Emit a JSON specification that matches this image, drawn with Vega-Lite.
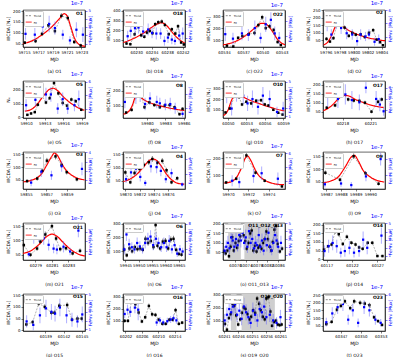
{
"$schema":"https://vega.github.io/schema/vega-lite/v6.json",
"background":"white",
"padding":{"left":5,"top":0,"right":0,"bottom":0},
"columns":4,
"spacing":{"row":34,"column":38},
"bounds":"flush",
"resolve":{"scale":{"color":"independent","strokeDash":"independent","x":"independent","y":"independent"}},
"config":{
 "font":"DejaVu Sans",
 "view":{"stroke":"#000000","strokeWidth":0.6,"continuousWidth":62,"continuousHeight":37},
 "axis":{"labelFontSize":3.9,"titleFontSize":4.5,"titleFontWeight":"normal","tickSize":2,"tickWidth":0.5,"tickColor":"#000000","domainColor":"#000000","domainWidth":0.6,"labelPadding":1,"titlePadding":2,"grid":false,"labelColor":"#000000","titleColor":"#000000","labelOverlap":false,"labelFlush":false},
 "axisX":{"titleLineHeight":12,"titlePadding":2.2},
 "legend":{"orient":"top-left","offset":1.2,"padding":1.2,"labelFontSize":2.7,"symbolType":"stroke","symbolSize":35,"symbolStrokeWidth":0.9,"rowPadding":0.4,"labelOffset":1.5,"strokeColor":"#cccccc","fillColor":"#ffffff","cornerRadius":1},
 "title":{"fontSize":5.5,"fontWeight":"normal","color":"#0000ff","anchor":"end","frame":"group","offset":-6.5,"dx":-2,"subtitleFontSize":4.5,"subtitleFontWeight":"bold","subtitleColor":"#000000","subtitlePadding":4}
},
"concat":[
{"title":{"text":"1e-7","subtitle":"O1"},
 "data":{"values":[
  {"k":"Trend","x":59715.1,"y":55,"e":8},{"k":"Trend","x":59716.6,"y":62,"e":9},{"k":"Trend","x":59717.5,"y":95,"e":10},{"k":"Trend","x":59718.4,"y":135,"e":12},{"k":"Trend","x":59719.3,"y":108,"e":11},{"k":"Trend","x":59720.2,"y":178,"e":12},{"k":"Trend","x":59721.1,"y":168,"e":12},{"k":"Trend","x":59722.0,"y":58,"e":9},{"k":"Trend","x":59722.9,"y":42,"e":8},
  {"k":"Fit","x":59714.85,"y":50},{"k":"Fit","x":59716,"y":62},{"k":"Fit","x":59717,"y":80},{"k":"Fit","x":59718,"y":103},{"k":"Fit","x":59719,"y":132},{"k":"Fit","x":59720,"y":168},{"k":"Fit","x":59720.6,"y":188},{"k":"Fit","x":59721,"y":178},{"k":"Fit","x":59721.5,"y":130},{"k":"Fit","x":59722,"y":78},{"k":"Fit","x":59722.5,"y":52},{"k":"Fit","x":59723,"y":42},{"k":"Fit","x":59723.5,"y":38},
  {"k":"F","x":59715.2,"y":2.2,"e":0.7},{"k":"F","x":59716.5,"y":2.1,"e":0.8},{"k":"F","x":59717.6,"y":3.1,"e":0.9},{"k":"F","x":59718.5,"y":3.4,"e":1.0},{"k":"F","x":59719.3,"y":2.9,"e":0.8},{"k":"F","x":59720.4,"y":2.1,"e":0.6},{"k":"F","x":59721.4,"y":1.4,"e":0.5},{"k":"F","x":59722.3,"y":2.7,"e":0.9},{"k":"F","x":59723.2,"y":2.1,"e":0.9}]},
 "encoding":{"x":{"field":"x","type":"quantitative","scale":{"domain":[59714.85,59723.5],"nice":false,"zero":false},"axis":{"values":[59715,59717,59719,59721,59723],"format":"d","title":["MJD","(a) O1"]}}},
 "layer":[
  {"encoding":{"y":{"field":"y","type":"quantitative","scale":{"domain":[35,205],"nice":false,"zero":false},"axis":{"orient":"left","values":[50,100,150,200],"title":"WCDA [Nₓ]"}}},
   "layer":[
    {"transform":[{"filter":"datum.k=='Trend'"}],"mark":{"type":"errorbar","color":"#000000","thickness":0.5},"encoding":{"yError":{"field":"e"}}},
    {"transform":[{"filter":"datum.k=='Trend'"}],"mark":{"type":"line","strokeWidth":0.6},"encoding":{"color":{"field":"k","type":"nominal","scale":{"domain":["Trend","Fit"],"range":["#7f7f7f","#ff0000"]},"legend":{"title":null}},"strokeDash":{"field":"k","type":"nominal","scale":{"domain":["Trend","Fit"],"range":[[2,1.2],[1,0]]},"legend":{"title":null}}}},
    {"transform":[{"filter":"datum.k=='Fit'"}],"mark":{"type":"line","strokeWidth":1.2,"interpolate":"monotone"},"encoding":{"color":{"field":"k","type":"nominal"},"strokeDash":{"field":"k","type":"nominal"}}},
    {"transform":[{"filter":"datum.k=='Trend'"}],"mark":{"type":"square","color":"#000000","size":6,"opacity":1}}]},
  {"encoding":{"y":{"field":"y","type":"quantitative","scale":{"domain":[0.6,5.1],"nice":false,"zero":false},"axis":{"orient":"right","values":[1,2,3,4,5],"title":"Fermi [Flux]","labelColor":"#0000ff","titleColor":"#0000ff","tickColor":"#0000ff","titleAngle":270}}},
   "layer":[
    {"transform":[{"filter":"datum.k=='F'"}],"mark":{"type":"errorbar","color":"#5a5aff","opacity":0.45,"thickness":1.1},"encoding":{"yError":{"field":"e"}}},
    {"transform":[{"filter":"datum.k=='F'"}],"mark":{"type":"square","color":"#0000ff","size":5,"opacity":1}}]}],
 "resolve":{"scale":{"y":"independent"}}},

{"title":{"text":"1e-7","subtitle":"O18"},
 "data":{"values":[
  {"k":"Trend","x":60227.5,"y":66,"e":15},{"k":"Trend","x":60228.5,"y":59,"e":15},{"k":"Trend","x":60229.6,"y":161,"e":20},{"k":"Trend","x":60230.4,"y":253,"e":22},{"k":"Trend","x":60231.3,"y":150,"e":20},{"k":"Trend","x":60232.1,"y":135,"e":18},{"k":"Trend","x":60232.8,"y":178,"e":20},{"k":"Trend","x":60233.5,"y":195,"e":20},{"k":"Trend","x":60234.2,"y":171,"e":20},{"k":"Trend","x":60234.9,"y":264,"e":22},{"k":"Trend","x":60235.7,"y":284,"e":22},{"k":"Trend","x":60236.6,"y":291,"e":22},{"k":"Trend","x":60237.4,"y":257,"e":22},{"k":"Trend","x":60238.4,"y":161,"e":20},{"k":"Trend","x":60239.2,"y":212,"e":20},{"k":"Trend","x":60240.1,"y":168,"e":20},{"k":"Trend","x":60240.8,"y":243,"e":22},{"k":"Trend","x":60241.6,"y":76,"e":15},{"k":"Trend","x":60242.3,"y":56,"e":15},
  {"k":"Fit","x":60226.7,"y":75},{"k":"Fit","x":60228,"y":95},{"k":"Fit","x":60230,"y":130},{"k":"Fit","x":60232,"y":175},{"k":"Fit","x":60234,"y":232},{"k":"Fit","x":60235.5,"y":268},{"k":"Fit","x":60236.5,"y":280},{"k":"Fit","x":60237.5,"y":262},{"k":"Fit","x":60238.5,"y":222},{"k":"Fit","x":60239.5,"y":172},{"k":"Fit","x":60240.5,"y":128},{"k":"Fit","x":60241.5,"y":95},{"k":"Fit","x":60242.5,"y":72},
  {"k":"F","x":60227.8,"y":2.2,"e":0.8},{"k":"F","x":60228.6,"y":3.0,"e":1.0},{"k":"F","x":60229.7,"y":3.4,"e":1.0},{"k":"F","x":60230.6,"y":3.5,"e":0.9},{"k":"F","x":60231.8,"y":2.9,"e":0.8},{"k":"F","x":60233.1,"y":3.2,"e":0.9},{"k":"F","x":60234.1,"y":2.7,"e":0.8},{"k":"F","x":60235.2,"y":2.6,"e":0.9},{"k":"F","x":60236.3,"y":2.6,"e":0.8},{"k":"F","x":60237.3,"y":1.5,"e":0.7},{"k":"F","x":60238.2,"y":2.0,"e":0.8},{"k":"F","x":60239.2,"y":1.7,"e":0.7},{"k":"F","x":60240.0,"y":1.5,"e":0.6},{"k":"F","x":60241.1,"y":2.3,"e":0.9},{"k":"F","x":60242.0,"y":2.6,"e":0.9}]},
 "encoding":{"x":{"field":"x","type":"quantitative","scale":{"domain":[60226.6,60242.6],"nice":false,"zero":false},"axis":{"values":[60230,60234,60238,60242],"format":"d","title":["MJD","(b) O18"]}}},
 "layer":[
  {"encoding":{"y":{"field":"y","type":"quantitative","scale":{"domain":[30,410],"nice":false,"zero":false},"axis":{"orient":"left","values":[100,200,300,400],"title":"WCDA [Nₓ]"}}},
   "layer":[
    {"transform":[{"filter":"datum.k=='Trend'"}],"mark":{"type":"errorbar","color":"#000000","thickness":0.5},"encoding":{"yError":{"field":"e"}}},
    {"transform":[{"filter":"datum.k=='Trend'"}],"mark":{"type":"line","strokeWidth":0.6},"encoding":{"color":{"field":"k","type":"nominal","scale":{"domain":["Trend","Fit"],"range":["#7f7f7f","#ff0000"]},"legend":{"title":null}},"strokeDash":{"field":"k","type":"nominal","scale":{"domain":["Trend","Fit"],"range":[[2,1.2],[1,0]]},"legend":{"title":null}}}},
    {"transform":[{"filter":"datum.k=='Fit'"}],"mark":{"type":"line","strokeWidth":1.2,"interpolate":"monotone"},"encoding":{"color":{"field":"k","type":"nominal"},"strokeDash":{"field":"k","type":"nominal"}}},
    {"transform":[{"filter":"datum.k=='Trend'"}],"mark":{"type":"square","color":"#000000","size":6,"opacity":1}}]},
  {"encoding":{"y":{"field":"y","type":"quantitative","scale":{"domain":[0.6,6.1],"nice":false,"zero":false},"axis":{"orient":"right","values":[2,4,6],"title":"Fermi [Flux]","labelColor":"#0000ff","titleColor":"#0000ff","tickColor":"#0000ff","titleAngle":270}}},
   "layer":[
    {"transform":[{"filter":"datum.k=='F'"}],"mark":{"type":"errorbar","color":"#5a5aff","opacity":0.45,"thickness":1.1},"encoding":{"yError":{"field":"e"}}},
    {"transform":[{"filter":"datum.k=='F'"}],"mark":{"type":"square","color":"#0000ff","size":5,"opacity":1}}]}],
 "resolve":{"scale":{"y":"independent"}}},

{"title":{"text":"1e-7","subtitle":"O22"},
 "data":{"values":[
  {"k":"Trend","x":60534.45,"y":55,"e":10},{"k":"Trend","x":60535.45,"y":48,"e":10},{"k":"Trend","x":60536.2,"y":120,"e":14},{"k":"Trend","x":60536.85,"y":135,"e":15},{"k":"Trend","x":60537.85,"y":150,"e":15},{"k":"Trend","x":60538.75,"y":160,"e":16},{"k":"Trend","x":60539.35,"y":225,"e":18},{"k":"Trend","x":60539.95,"y":290,"e":20},{"k":"Trend","x":60540.5,"y":200,"e":17},{"k":"Trend","x":60541.1,"y":215,"e":18},{"k":"Trend","x":60541.75,"y":185,"e":17},{"k":"Trend","x":60542.35,"y":85,"e":12},{"k":"Trend","x":60542.85,"y":60,"e":10},
  {"k":"Fit","x":60533.85,"y":62},{"k":"Fit","x":60535,"y":75},{"k":"Fit","x":60536,"y":95},{"k":"Fit","x":60537,"y":125},{"k":"Fit","x":60538,"y":165},{"k":"Fit","x":60539,"y":210},{"k":"Fit","x":60539.8,"y":240},{"k":"Fit","x":60540.3,"y":240},{"k":"Fit","x":60541,"y":212},{"k":"Fit","x":60541.7,"y":160},{"k":"Fit","x":60542.3,"y":110},{"k":"Fit","x":60543,"y":75},{"k":"Fit","x":60543.5,"y":64},
  {"k":"F","x":60534.2,"y":2.3,"e":0.9},{"k":"F","x":60535.4,"y":1.7,"e":0.8},{"k":"F","x":60536.8,"y":2.4,"e":0.9},{"k":"F","x":60537.8,"y":2.2,"e":0.8},{"k":"F","x":60538.8,"y":3.1,"e":1.0},{"k":"F","x":60539.7,"y":1.8,"e":0.7},{"k":"F","x":60540.5,"y":3.6,"e":1.0},{"k":"F","x":60541.3,"y":4.2,"e":1.0},{"k":"F","x":60541.9,"y":2.4,"e":0.9},{"k":"F","x":60542.6,"y":1.8,"e":0.8}]},
 "encoding":{"x":{"field":"x","type":"quantitative","scale":{"domain":[60533.85,60543.5],"nice":false,"zero":false},"axis":{"values":[60534,60537,60540,60543],"format":"d","title":["MJD","(c) O22"]}}},
 "layer":[
  {"encoding":{"y":{"field":"y","type":"quantitative","scale":{"domain":[44,350],"nice":false,"zero":false},"axis":{"orient":"left","values":[100,200,300],"title":"WCDA [Nₓ]"}}},
   "layer":[
    {"transform":[{"filter":"datum.k=='Trend'"}],"mark":{"type":"errorbar","color":"#000000","thickness":0.5},"encoding":{"yError":{"field":"e"}}},
    {"transform":[{"filter":"datum.k=='Trend'"}],"mark":{"type":"line","strokeWidth":0.6},"encoding":{"color":{"field":"k","type":"nominal","scale":{"domain":["Trend","Fit"],"range":["#7f7f7f","#ff0000"]},"legend":{"title":null}},"strokeDash":{"field":"k","type":"nominal","scale":{"domain":["Trend","Fit"],"range":[[2,1.2],[1,0]]},"legend":{"title":null}}}},
    {"transform":[{"filter":"datum.k=='Fit'"}],"mark":{"type":"line","strokeWidth":1.2,"interpolate":"monotone"},"encoding":{"color":{"field":"k","type":"nominal"},"strokeDash":{"field":"k","type":"nominal"}}},
    {"transform":[{"filter":"datum.k=='Trend'"}],"mark":{"type":"square","color":"#000000","size":6,"opacity":1}}]},
  {"encoding":{"y":{"field":"y","type":"quantitative","scale":{"domain":[0.6,5.5],"nice":false,"zero":false},"axis":{"orient":"right","values":[2,4],"title":"Fermi [Flux]","labelColor":"#0000ff","titleColor":"#0000ff","tickColor":"#0000ff","titleAngle":270}}},
   "layer":[
    {"transform":[{"filter":"datum.k=='F'"}],"mark":{"type":"errorbar","color":"#5a5aff","opacity":0.45,"thickness":1.1},"encoding":{"yError":{"field":"e"}}},
    {"transform":[{"filter":"datum.k=='F'"}],"mark":{"type":"square","color":"#0000ff","size":5,"opacity":1}}]}],
 "resolve":{"scale":{"y":"independent"}}},

{"title":{"text":"1e-7","subtitle":"O2"},
 "data":{"values":[
  {"k":"Trend","x":59796.1,"y":60,"e":12},{"k":"Trend","x":59796.6,"y":42,"e":10},{"k":"Trend","x":59797.1,"y":65,"e":12},{"k":"Trend","x":59797.6,"y":160,"e":15},{"k":"Trend","x":59798.1,"y":148,"e":14},{"k":"Trend","x":59798.7,"y":135,"e":14},{"k":"Trend","x":59799.3,"y":80,"e":12},{"k":"Trend","x":59799.8,"y":100,"e":13},{"k":"Trend","x":59800.3,"y":88,"e":12},{"k":"Trend","x":59801,"y":90,"e":12},{"k":"Trend","x":59801.6,"y":72,"e":11},{"k":"Trend","x":59802.2,"y":100,"e":12},{"k":"Trend","x":59802.8,"y":118,"e":13},{"k":"Trend","x":59803.3,"y":55,"e":10},{"k":"Trend","x":59803.8,"y":38,"e":9},{"k":"Trend","x":59804.2,"y":18,"e":8},
  {"k":"Fit","x":59795.7,"y":20},{"k":"Fit","x":59796.3,"y":40},{"k":"Fit","x":59796.9,"y":90},{"k":"Fit","x":59797.4,"y":145},{"k":"Fit","x":59797.7,"y":160},{"k":"Fit","x":59798.2,"y":150},{"k":"Fit","x":59799,"y":125},{"k":"Fit","x":59800,"y":100},{"k":"Fit","x":59801,"y":82},{"k":"Fit","x":59802,"y":68},{"k":"Fit","x":59803,"y":58},{"k":"Fit","x":59804,"y":50},{"k":"Fit","x":59804.5,"y":48},
  {"k":"F","x":59796.2,"y":3.8,"e":1.0},{"k":"F","x":59796.8,"y":2.3,"e":0.8},{"k":"F","x":59797.5,"y":4.1,"e":1.0},{"k":"F","x":59798.2,"y":3.3,"e":0.9},{"k":"F","x":59799,"y":2.5,"e":0.9},{"k":"F","x":59799.8,"y":2.3,"e":0.8},{"k":"F","x":59800.5,"y":1.3,"e":0.7},{"k":"F","x":59801,"y":2.3,"e":0.8},{"k":"F","x":59801.7,"y":2.0,"e":0.7},{"k":"F","x":59802.2,"y":2.3,"e":0.8},{"k":"F","x":59803,"y":1.2,"e":0.6},{"k":"F","x":59803.6,"y":1.6,"e":0.7}]},
 "encoding":{"x":{"field":"x","type":"quantitative","scale":{"domain":[59795.6,59804.5],"nice":false,"zero":false},"axis":{"values":[59796,59798,59800,59802,59804],"format":"d","title":["MJD","(d) O2"]}}},
 "layer":[
  {"encoding":{"y":{"field":"y","type":"quantitative","scale":{"domain":[6,252],"nice":false,"zero":false},"axis":{"orient":"left","values":[50,100,150,200,250],"title":"WCDA [Nₓ]"}}},
   "layer":[
    {"transform":[{"filter":"datum.k=='Trend'"}],"mark":{"type":"errorbar","color":"#000000","thickness":0.5},"encoding":{"yError":{"field":"e"}}},
    {"transform":[{"filter":"datum.k=='Trend'"}],"mark":{"type":"line","strokeWidth":0.6},"encoding":{"color":{"field":"k","type":"nominal","scale":{"domain":["Trend","Fit"],"range":["#7f7f7f","#ff0000"]},"legend":{"title":null}},"strokeDash":{"field":"k","type":"nominal","scale":{"domain":["Trend","Fit"],"range":[[2,1.2],[1,0]]},"legend":{"title":null}}}},
    {"transform":[{"filter":"datum.k=='Fit'"}],"mark":{"type":"line","strokeWidth":1.2,"interpolate":"monotone"},"encoding":{"color":{"field":"k","type":"nominal"},"strokeDash":{"field":"k","type":"nominal"}}},
    {"transform":[{"filter":"datum.k=='Trend'"}],"mark":{"type":"square","color":"#000000","size":6,"opacity":1}}]},
  {"encoding":{"y":{"field":"y","type":"quantitative","scale":{"domain":[0.4,6.05],"nice":false,"zero":false},"axis":{"orient":"right","values":[2,4,6],"title":"Fermi [Flux]","labelColor":"#0000ff","titleColor":"#0000ff","tickColor":"#0000ff","titleAngle":270}}},
   "layer":[
    {"transform":[{"filter":"datum.k=='F'"}],"mark":{"type":"errorbar","color":"#5a5aff","opacity":0.45,"thickness":1.1},"encoding":{"yError":{"field":"e"}}},
    {"transform":[{"filter":"datum.k=='F'"}],"mark":{"type":"square","color":"#0000ff","size":5,"opacity":1}}]}],
 "resolve":{"scale":{"y":"independent"}}},

{"title":{"text":"1e-7","subtitle":"O5"},
 "data":{"values":[
  {"k":"Trend","x":59910.2,"y":18,"e":8},{"k":"Trend","x":59910.8,"y":28,"e":9},{"k":"Trend","x":59911.4,"y":38,"e":10},{"k":"Trend","x":59911.9,"y":92,"e":12},{"k":"Trend","x":59912.5,"y":162,"e":15},{"k":"Trend","x":59913.2,"y":108,"e":13},{"k":"Trend","x":59913.8,"y":140,"e":14},{"k":"Trend","x":59914.5,"y":250,"e":12},{"k":"Trend","x":59915.2,"y":175,"e":15},{"k":"Trend","x":59915.9,"y":105,"e":13},{"k":"Trend","x":59916.6,"y":85,"e":12},{"k":"Trend","x":59917.3,"y":130,"e":14},{"k":"Trend","x":59918,"y":118,"e":13},{"k":"Trend","x":59918.9,"y":55,"e":10},
  {"k":"Fit","x":59909.8,"y":45},{"k":"Fit","x":59911,"y":62},{"k":"Fit","x":59912,"y":108},{"k":"Fit","x":59913,"y":168},{"k":"Fit","x":59913.8,"y":205},{"k":"Fit","x":59914.4,"y":212},{"k":"Fit","x":59915,"y":198},{"k":"Fit","x":59916,"y":150},{"k":"Fit","x":59917,"y":110},{"k":"Fit","x":59918,"y":80},{"k":"Fit","x":59919,"y":57},{"k":"Fit","x":59919.4,"y":52},
  {"k":"F","x":59910,"y":2.5,"e":0.9},{"k":"F","x":59911.5,"y":3.3,"e":1.0},{"k":"F","x":59912.2,"y":4.8,"e":1.1},{"k":"F","x":59913.2,"y":4.1,"e":1.0},{"k":"F","x":59914,"y":4.1,"e":1.1},{"k":"F","x":59915.1,"y":2.0,"e":0.8},{"k":"F","x":59915.9,"y":3.4,"e":1.0},{"k":"F","x":59916.7,"y":2.0,"e":0.8},{"k":"F","x":59917.8,"y":2.5,"e":0.9},{"k":"F","x":59918.5,"y":3.4,"e":1.3}]},
 "encoding":{"x":{"field":"x","type":"quantitative","scale":{"domain":[59909.5,59919.5],"nice":false,"zero":false},"axis":{"values":[59910,59913,59916,59919],"format":"d","title":["MJD","(e) O5"]}}},
 "layer":[
  {"encoding":{"y":{"field":"y","type":"quantitative","scale":{"domain":[-5,265],"nice":false,"zero":false},"axis":{"orient":"left","values":[0,100,200],"title":"Nₓ"}}},
   "layer":[
    {"transform":[{"filter":"datum.k=='Trend'"}],"mark":{"type":"errorbar","color":"#000000","thickness":0.5},"encoding":{"yError":{"field":"e"}}},
    {"transform":[{"filter":"datum.k=='Trend'"}],"mark":{"type":"line","strokeWidth":0.6},"encoding":{"color":{"field":"k","type":"nominal","scale":{"domain":["Trend","Fit"],"range":["#7f7f7f","#ff0000"]},"legend":{"title":null}},"strokeDash":{"field":"k","type":"nominal","scale":{"domain":["Trend","Fit"],"range":[[2,1.2],[1,0]]},"legend":{"title":null}}}},
    {"transform":[{"filter":"datum.k=='Fit'"}],"mark":{"type":"line","strokeWidth":1.2,"interpolate":"monotone"},"encoding":{"color":{"field":"k","type":"nominal"},"strokeDash":{"field":"k","type":"nominal"}}},
    {"transform":[{"filter":"datum.k=='Trend'"}],"mark":{"type":"square","color":"#000000","size":6,"opacity":1}}]},
  {"encoding":{"y":{"field":"y","type":"quantitative","scale":{"domain":[0.6,6.1],"nice":false,"zero":false},"axis":{"orient":"right","values":[2,4,6],"title":"Fermi [Flux]","labelColor":"#0000ff","titleColor":"#0000ff","tickColor":"#0000ff","titleAngle":270}}},
   "layer":[
    {"transform":[{"filter":"datum.k=='F'"}],"mark":{"type":"errorbar","color":"#5a5aff","opacity":0.45,"thickness":1.1},"encoding":{"yError":{"field":"e"}}},
    {"transform":[{"filter":"datum.k=='F'"}],"mark":{"type":"square","color":"#0000ff","size":5,"opacity":1}}]}],
 "resolve":{"scale":{"y":"independent"}}},

{"title":{"text":"1e-7","subtitle":"O8"},
 "data":{"values":[
  {"k":"Trend","x":59976.6,"y":53,"e":10},{"k":"Trend","x":59977.5,"y":71,"e":11},{"k":"Trend","x":59978.3,"y":171,"e":15},{"k":"Trend","x":59979.1,"y":160,"e":15},{"k":"Trend","x":59979.6,"y":89,"e":12},{"k":"Trend","x":59980.4,"y":122,"e":13},{"k":"Trend","x":59981.2,"y":104,"e":12},{"k":"Trend","x":59982.1,"y":89,"e":12},{"k":"Trend","x":59982.9,"y":100,"e":12},{"k":"Trend","x":59983.7,"y":104,"e":12},{"k":"Trend","x":59984.5,"y":89,"e":12},{"k":"Trend","x":59985.3,"y":42,"e":10},{"k":"Trend","x":59985.8,"y":78,"e":11},
  {"k":"Fit","x":59976.2,"y":42},{"k":"Fit","x":59977,"y":60},{"k":"Fit","x":59977.6,"y":100},{"k":"Fit","x":59978.1,"y":160},{"k":"Fit","x":59978.4,"y":180},{"k":"Fit","x":59978.8,"y":165},{"k":"Fit","x":59979.5,"y":140},{"k":"Fit","x":59980.5,"y":120},{"k":"Fit","x":59981.5,"y":105},{"k":"Fit","x":59982.5,"y":95},{"k":"Fit","x":59983.5,"y":85},{"k":"Fit","x":59984.5,"y":77},{"k":"Fit","x":59985.5,"y":70},{"k":"Fit","x":59986.1,"y":67},
  {"k":"F","x":59976.4,"y":2.8,"e":0.9},{"k":"F","x":59977.4,"y":4.7,"e":1.0},{"k":"F","x":59978.2,"y":3.5,"e":1.0},{"k":"F","x":59978.9,"y":3.8,"e":1.0},{"k":"F","x":59979.7,"y":2.5,"e":0.9},{"k":"F","x":59980.5,"y":3.3,"e":0.9},{"k":"F","x":59981.6,"y":2.8,"e":0.9},{"k":"F","x":59982.1,"y":2.6,"e":0.8},{"k":"F","x":59983,"y":2.4,"e":0.8},{"k":"F","x":59983.8,"y":2.5,"e":0.9},{"k":"F","x":59984.6,"y":1.9,"e":0.8},{"k":"F","x":59985.8,"y":1.1,"e":0.5}]},
 "encoding":{"x":{"field":"x","type":"quantitative","scale":{"domain":[59976.1,59986.2],"nice":false,"zero":false},"axis":{"values":[59980,59983,59986],"format":"d","title":["MJD","(f) O8"]}}},
 "layer":[
  {"encoding":{"y":{"field":"y","type":"quantitative","scale":{"domain":[16,267],"nice":false,"zero":false},"axis":{"orient":"left","values":[100,200],"title":"WCDA [Nₓ]"}}},
   "layer":[
    {"transform":[{"filter":"datum.k=='Trend'"}],"mark":{"type":"errorbar","color":"#000000","thickness":0.5},"encoding":{"yError":{"field":"e"}}},
    {"transform":[{"filter":"datum.k=='Trend'"}],"mark":{"type":"line","strokeWidth":0.6},"encoding":{"color":{"field":"k","type":"nominal","scale":{"domain":["Trend","Fit"],"range":["#7f7f7f","#ff0000"]},"legend":{"title":null}},"strokeDash":{"field":"k","type":"nominal","scale":{"domain":["Trend","Fit"],"range":[[2,1.2],[1,0]]},"legend":{"title":null}}}},
    {"transform":[{"filter":"datum.k=='Fit'"}],"mark":{"type":"line","strokeWidth":1.2,"interpolate":"monotone"},"encoding":{"color":{"field":"k","type":"nominal"},"strokeDash":{"field":"k","type":"nominal"}}},
    {"transform":[{"filter":"datum.k=='Trend'"}],"mark":{"type":"square","color":"#000000","size":6,"opacity":1}}]},
  {"encoding":{"y":{"field":"y","type":"quantitative","scale":{"domain":[0.5,5.8],"nice":false,"zero":false},"axis":{"orient":"right","values":[2,4],"title":"Fermi [Flux]","labelColor":"#0000ff","titleColor":"#0000ff","tickColor":"#0000ff","titleAngle":270}}},
   "layer":[
    {"transform":[{"filter":"datum.k=='F'"}],"mark":{"type":"errorbar","color":"#5a5aff","opacity":0.45,"thickness":1.1},"encoding":{"yError":{"field":"e"}}},
    {"transform":[{"filter":"datum.k=='F'"}],"mark":{"type":"square","color":"#0000ff","size":5,"opacity":1}}]}],
 "resolve":{"scale":{"y":"independent"}}},

{"title":{"text":"1e-7","subtitle":"O10"},
 "data":{"values":[
  {"k":"Trend","x":60049.6,"y":75,"e":12},{"k":"Trend","x":60050.3,"y":112,"e":14},{"k":"Trend","x":60051.2,"y":245,"e":20},{"k":"Trend","x":60051.8,"y":220,"e":18},{"k":"Trend","x":60052.3,"y":150,"e":16},{"k":"Trend","x":60053,"y":175,"e":16},{"k":"Trend","x":60053.8,"y":160,"e":16},{"k":"Trend","x":60054.6,"y":185,"e":17},{"k":"Trend","x":60055.4,"y":190,"e":17},{"k":"Trend","x":60056,"y":150,"e":16},{"k":"Trend","x":60056.6,"y":140,"e":15},{"k":"Trend","x":60057.4,"y":100,"e":13},{"k":"Trend","x":60058.2,"y":72,"e":12},{"k":"Trend","x":60058.9,"y":55,"e":11},
  {"k":"Fit","x":60049.3,"y":45},{"k":"Fit","x":60050,"y":95},{"k":"Fit","x":60050.6,"y":190},{"k":"Fit","x":60051,"y":232},{"k":"Fit","x":60051.5,"y":245},{"k":"Fit","x":60052,"y":235},{"k":"Fit","x":60053,"y":205},{"k":"Fit","x":60054,"y":180},{"k":"Fit","x":60055,"y":160},{"k":"Fit","x":60056,"y":140},{"k":"Fit","x":60057,"y":122},{"k":"Fit","x":60058,"y":105},{"k":"Fit","x":60059.2,"y":90},
  {"k":"F","x":60049.8,"y":3.5,"e":1.0},{"k":"F","x":60050.6,"y":1.9,"e":0.8},{"k":"F","x":60051.4,"y":3.7,"e":1.0},{"k":"F","x":60052.5,"y":3.4,"e":1.0},{"k":"F","x":60053.2,"y":2.5,"e":0.9},{"k":"F","x":60054,"y":3.0,"e":1.0},{"k":"F","x":60054.9,"y":2.1,"e":0.9},{"k":"F","x":60055.7,"y":3.4,"e":1.0},{"k":"F","x":60056.8,"y":3.0,"e":1.0},{"k":"F","x":60058,"y":1.5,"e":0.6},{"k":"F","x":60059,"y":1.9,"e":0.8}]},
 "encoding":{"x":{"field":"x","type":"quantitative","scale":{"domain":[60049.2,60059.3],"nice":false,"zero":false},"axis":{"values":[60050,60053,60056,60059],"format":"d","title":["MJD","(g) O10"]}}},
 "layer":[
  {"encoding":{"y":{"field":"y","type":"quantitative","scale":{"domain":[23,370],"nice":false,"zero":false},"axis":{"orient":"left","values":[100,200,300],"title":"WCDA [Nₓ]"}}},
   "layer":[
    {"transform":[{"filter":"datum.k=='Trend'"}],"mark":{"type":"errorbar","color":"#000000","thickness":0.5},"encoding":{"yError":{"field":"e"}}},
    {"transform":[{"filter":"datum.k=='Trend'"}],"mark":{"type":"line","strokeWidth":0.6},"encoding":{"color":{"field":"k","type":"nominal","scale":{"domain":["Trend","Fit"],"range":["#7f7f7f","#ff0000"]},"legend":{"title":null}},"strokeDash":{"field":"k","type":"nominal","scale":{"domain":["Trend","Fit"],"range":[[2,1.2],[1,0]]},"legend":{"title":null}}}},
    {"transform":[{"filter":"datum.k=='Fit'"}],"mark":{"type":"line","strokeWidth":1.2,"interpolate":"monotone"},"encoding":{"color":{"field":"k","type":"nominal"},"strokeDash":{"field":"k","type":"nominal"}}},
    {"transform":[{"filter":"datum.k=='Trend'"}],"mark":{"type":"square","color":"#000000","size":6,"opacity":1}}]},
  {"encoding":{"y":{"field":"y","type":"quantitative","scale":{"domain":[0.8,5.1],"nice":false,"zero":false},"axis":{"orient":"right","values":[1,2,3,4,5],"title":"Fermi [Flux]","labelColor":"#0000ff","titleColor":"#0000ff","tickColor":"#0000ff","titleAngle":270}}},
   "layer":[
    {"transform":[{"filter":"datum.k=='F'"}],"mark":{"type":"errorbar","color":"#5a5aff","opacity":0.45,"thickness":1.1},"encoding":{"yError":{"field":"e"}}},
    {"transform":[{"filter":"datum.k=='F'"}],"mark":{"type":"square","color":"#0000ff","size":5,"opacity":1}}]}],
 "resolve":{"scale":{"y":"independent"}}},

{"title":{"text":"1e-7","subtitle":"O17"},
 "data":{"values":[
  {"k":"Trend","x":60216.3,"y":72,"e":10},{"k":"Trend","x":60217.2,"y":85,"e":10},{"k":"Trend","x":60218,"y":150,"e":12},{"k":"Trend","x":60218.6,"y":118,"e":11},{"k":"Trend","x":60219.2,"y":112,"e":11},{"k":"Trend","x":60219.8,"y":110,"e":11},{"k":"Trend","x":60220.4,"y":100,"e":11},{"k":"Trend","x":60221.1,"y":50,"e":9},{"k":"Trend","x":60221.8,"y":105,"e":11},{"k":"Trend","x":60222.2,"y":118,"e":11},
  {"k":"Fit","x":60215.95,"y":55},{"k":"Fit","x":60216.8,"y":82},{"k":"Fit","x":60217.5,"y":118},{"k":"Fit","x":60218.1,"y":140},{"k":"Fit","x":60218.6,"y":138},{"k":"Fit","x":60219.3,"y":120},{"k":"Fit","x":60220,"y":105},{"k":"Fit","x":60220.7,"y":92},{"k":"Fit","x":60221.4,"y":82},{"k":"Fit","x":60222,"y":76},{"k":"Fit","x":60222.4,"y":73},
  {"k":"F","x":60216.4,"y":2.2,"e":0.9},{"k":"F","x":60217.5,"y":2.0,"e":0.8},{"k":"F","x":60218.3,"y":2.4,"e":0.9},{"k":"F","x":60219,"y":1.9,"e":0.8},{"k":"F","x":60219.8,"y":1.7,"e":0.7},{"k":"F","x":60220.5,"y":3.0,"e":0.5},{"k":"F","x":60221.6,"y":2.0,"e":0.7},{"k":"F","x":60222,"y":1.5,"e":0.6},{"k":"F","x":60222.4,"y":0.9,"e":0.4}]},
 "encoding":{"x":{"field":"x","type":"quantitative","scale":{"domain":[60215.9,60222.55],"nice":false,"zero":false},"axis":{"values":[60218,60221],"format":"d","title":["MJD","(h) O17"]}}},
 "layer":[
  {"encoding":{"y":{"field":"y","type":"quantitative","scale":{"domain":[15,220],"nice":false,"zero":false},"axis":{"orient":"left","values":[50,100,150,200],"title":"WCDA [Nₓ]"}}},
   "layer":[
    {"transform":[{"filter":"datum.k=='Trend'"}],"mark":{"type":"errorbar","color":"#000000","thickness":0.5},"encoding":{"yError":{"field":"e"}}},
    {"transform":[{"filter":"datum.k=='Trend'"}],"mark":{"type":"line","strokeWidth":0.6},"encoding":{"color":{"field":"k","type":"nominal","scale":{"domain":["Trend","Fit"],"range":["#7f7f7f","#ff0000"]},"legend":{"title":null}},"strokeDash":{"field":"k","type":"nominal","scale":{"domain":["Trend","Fit"],"range":[[2,1.2],[1,0]]},"legend":{"title":null}}}},
    {"transform":[{"filter":"datum.k=='Fit'"}],"mark":{"type":"line","strokeWidth":1.2,"interpolate":"monotone"},"encoding":{"color":{"field":"k","type":"nominal"},"strokeDash":{"field":"k","type":"nominal"}}},
    {"transform":[{"filter":"datum.k=='Trend'"}],"mark":{"type":"square","color":"#000000","size":6,"opacity":1}}]},
  {"encoding":{"y":{"field":"y","type":"quantitative","scale":{"domain":[0.3,3.6],"nice":false,"zero":false},"axis":{"orient":"right","values":[1,2,3],"title":"Fermi [Flux]","labelColor":"#0000ff","titleColor":"#0000ff","tickColor":"#0000ff","titleAngle":270}}},
   "layer":[
    {"transform":[{"filter":"datum.k=='F'"}],"mark":{"type":"errorbar","color":"#5a5aff","opacity":0.45,"thickness":1.1},"encoding":{"yError":{"field":"e"}}},
    {"transform":[{"filter":"datum.k=='F'"}],"mark":{"type":"square","color":"#0000ff","size":5,"opacity":1}}]}],
 "resolve":{"scale":{"y":"independent"}}},

{"title":{"text":"1e-7","subtitle":"O3"},
 "data":{"values":[
  {"k":"Trend","x":59855.1,"y":45,"e":7},{"k":"Trend","x":59856.1,"y":55,"e":8},{"k":"Trend","x":59856.6,"y":85,"e":9},{"k":"Trend","x":59857.05,"y":125,"e":11},{"k":"Trend","x":59857.9,"y":142,"e":12},{"k":"Trend","x":59858.5,"y":108,"e":10},{"k":"Trend","x":59859,"y":80,"e":9},{"k":"Trend","x":59860,"y":52,"e":8},
  {"k":"Fit","x":59854.75,"y":42},{"k":"Fit","x":59855.5,"y":48},{"k":"Fit","x":59856,"y":56},{"k":"Fit","x":59856.5,"y":72},{"k":"Fit","x":59857,"y":105},{"k":"Fit","x":59857.5,"y":140},{"k":"Fit","x":59857.8,"y":155},{"k":"Fit","x":59858.1,"y":145},{"k":"Fit","x":59858.5,"y":115},{"k":"Fit","x":59859,"y":85},{"k":"Fit","x":59859.5,"y":68},{"k":"Fit","x":59860,"y":57},{"k":"Fit","x":59860.75,"y":50},
  {"k":"F","x":59855.5,"y":0.7,"e":0.4},{"k":"F","x":59856.5,"y":1.9,"e":0.6},{"k":"F","x":59857.5,"y":1.5,"e":0.5},{"k":"F","x":59858.5,"y":2.5,"e":0.6},{"k":"F","x":59860.5,"y":2.2,"e":0.7}]},
 "encoding":{"x":{"field":"x","type":"quantitative","scale":{"domain":[59854.7,59860.8],"nice":false,"zero":false},"axis":{"values":[59855,59857,59859],"format":"d","title":["MJD","(i) O3"]}}},
 "layer":[
  {"encoding":{"y":{"field":"y","type":"quantitative","scale":{"domain":[14,159],"nice":false,"zero":false},"axis":{"orient":"left","values":[50,100,150],"title":"WCDA [Nₓ]"}}},
   "layer":[
    {"transform":[{"filter":"datum.k=='Trend'"}],"mark":{"type":"errorbar","color":"#000000","thickness":0.5},"encoding":{"yError":{"field":"e"}}},
    {"transform":[{"filter":"datum.k=='Trend'"}],"mark":{"type":"line","strokeWidth":0.6},"encoding":{"color":{"field":"k","type":"nominal","scale":{"domain":["Trend","Fit"],"range":["#7f7f7f","#ff0000"]},"legend":{"title":null}},"strokeDash":{"field":"k","type":"nominal","scale":{"domain":["Trend","Fit"],"range":[[2,1.2],[1,0]]},"legend":{"title":null}}}},
    {"transform":[{"filter":"datum.k=='Fit'"}],"mark":{"type":"line","strokeWidth":1.2,"interpolate":"monotone"},"encoding":{"color":{"field":"k","type":"nominal"},"strokeDash":{"field":"k","type":"nominal"}}},
    {"transform":[{"filter":"datum.k=='Trend'"}],"mark":{"type":"square","color":"#000000","size":6,"opacity":1}}]},
  {"encoding":{"y":{"field":"y","type":"quantitative","scale":{"domain":[0,4.05],"nice":false,"zero":false},"axis":{"orient":"right","values":[1,2,3,4],"title":"Fermi [Flux]","labelColor":"#0000ff","titleColor":"#0000ff","tickColor":"#0000ff","titleAngle":270}}},
   "layer":[
    {"transform":[{"filter":"datum.k=='F'"}],"mark":{"type":"errorbar","color":"#5a5aff","opacity":0.45,"thickness":1.1},"encoding":{"yError":{"field":"e"}}},
    {"transform":[{"filter":"datum.k=='F'"}],"mark":{"type":"square","color":"#0000ff","size":5,"opacity":1}}]}],
 "resolve":{"scale":{"y":"independent"}}},

{"title":{"text":"1e-7","subtitle":"O4"},
 "data":{"values":[
  {"k":"Trend","x":59870,"y":82,"e":9},{"k":"Trend","x":59870.7,"y":45,"e":7},{"k":"Trend","x":59871.3,"y":80,"e":9},{"k":"Trend","x":59872,"y":95,"e":9},{"k":"Trend","x":59872.6,"y":110,"e":10},{"k":"Trend","x":59873.3,"y":120,"e":10},{"k":"Trend","x":59873.8,"y":132,"e":11},{"k":"Trend","x":59874.5,"y":118,"e":10},{"k":"Trend","x":59875.2,"y":125,"e":10},{"k":"Trend","x":59875.8,"y":90,"e":9},{"k":"Trend","x":59876.5,"y":45,"e":7},{"k":"Trend","x":59877.3,"y":60,"e":8},
  {"k":"Fit","x":59869.7,"y":48},{"k":"Fit","x":59870.5,"y":55},{"k":"Fit","x":59871.5,"y":72},{"k":"Fit","x":59872.5,"y":100},{"k":"Fit","x":59873.3,"y":125},{"k":"Fit","x":59873.9,"y":132},{"k":"Fit","x":59874.5,"y":124},{"k":"Fit","x":59875.2,"y":100},{"k":"Fit","x":59875.8,"y":75},{"k":"Fit","x":59876.5,"y":55},{"k":"Fit","x":59877.3,"y":42},{"k":"Fit","x":59878.3,"y":38},
  {"k":"F","x":59870.1,"y":1.3,"e":0.5},{"k":"F","x":59870.8,"y":2.2,"e":0.7},{"k":"F","x":59871.5,"y":2.7,"e":0.8},{"k":"F","x":59872.1,"y":1.6,"e":0.6},{"k":"F","x":59872.8,"y":0.8,"e":0.4},{"k":"F","x":59873.6,"y":3.0,"e":0.8},{"k":"F","x":59874.4,"y":2.9,"e":0.8},{"k":"F","x":59875,"y":2.4,"e":0.7},{"k":"F","x":59875.7,"y":1.3,"e":0.5},{"k":"F","x":59876.5,"y":2.1,"e":0.6},{"k":"F","x":59878,"y":0.6,"e":0.3}]},
 "encoding":{"x":{"field":"x","type":"quantitative","scale":{"domain":[59869.67,59878.4],"nice":false,"zero":false},"axis":{"values":[59870,59872,59874,59876],"format":"d","title":["MJD","(j) O4"]}}},
 "layer":[
  {"encoding":{"y":{"field":"y","type":"quantitative","scale":{"domain":[20,158],"nice":false,"zero":false},"axis":{"orient":"left","values":[50,100,150],"title":"WCDA [Nₓ]"}}},
   "layer":[
    {"transform":[{"filter":"datum.k=='Trend'"}],"mark":{"type":"errorbar","color":"#000000","thickness":0.5},"encoding":{"yError":{"field":"e"}}},
    {"transform":[{"filter":"datum.k=='Trend'"}],"mark":{"type":"line","strokeWidth":0.6},"encoding":{"color":{"field":"k","type":"nominal","scale":{"domain":["Trend","Fit"],"range":["#7f7f7f","#ff0000"]},"legend":{"title":null}},"strokeDash":{"field":"k","type":"nominal","scale":{"domain":["Trend","Fit"],"range":[[2,1.2],[1,0]]},"legend":{"title":null}}}},
    {"transform":[{"filter":"datum.k=='Fit'"}],"mark":{"type":"line","strokeWidth":1.2,"interpolate":"monotone"},"encoding":{"color":{"field":"k","type":"nominal"},"strokeDash":{"field":"k","type":"nominal"}}},
    {"transform":[{"filter":"datum.k=='Trend'"}],"mark":{"type":"square","color":"#000000","size":6,"opacity":1}}]},
  {"encoding":{"y":{"field":"y","type":"quantitative","scale":{"domain":[0,4.9],"nice":false,"zero":false},"axis":{"orient":"right","values":[2,4],"title":"Fermi [Flux]","labelColor":"#0000ff","titleColor":"#0000ff","tickColor":"#0000ff","titleAngle":270}}},
   "layer":[
    {"transform":[{"filter":"datum.k=='F'"}],"mark":{"type":"errorbar","color":"#5a5aff","opacity":0.45,"thickness":1.1},"encoding":{"yError":{"field":"e"}}},
    {"transform":[{"filter":"datum.k=='F'"}],"mark":{"type":"square","color":"#0000ff","size":5,"opacity":1}}]}],
 "resolve":{"scale":{"y":"independent"}}},

{"title":{"text":"1e-7","subtitle":"O7"},
 "data":{"values":[
  {"k":"Trend","x":59969.8,"y":58,"e":9},{"k":"Trend","x":59970.8,"y":80,"e":10},{"k":"Trend","x":59971.8,"y":215,"e":14},{"k":"Trend","x":59972.7,"y":115,"e":11},{"k":"Trend","x":59973.6,"y":68,"e":9},{"k":"Trend","x":59975.3,"y":35,"e":8},
  {"k":"Fit","x":59969.6,"y":55},{"k":"Fit","x":59970.3,"y":62},{"k":"Fit","x":59970.8,"y":85},{"k":"Fit","x":59971.3,"y":140},{"k":"Fit","x":59971.7,"y":200},{"k":"Fit","x":59971.9,"y":212},{"k":"Fit","x":59972.2,"y":190},{"k":"Fit","x":59972.6,"y":140},{"k":"Fit","x":59973,"y":100},{"k":"Fit","x":59973.5,"y":75},{"k":"Fit","x":59974,"y":60},{"k":"Fit","x":59974.6,"y":50},{"k":"Fit","x":59975.5,"y":45},
  {"k":"F","x":59970.4,"y":2.0,"e":0.8},{"k":"F","x":59971.1,"y":1.8,"e":0.8},{"k":"F","x":59972.5,"y":2.7,"e":1.0},{"k":"F","x":59973.3,"y":3.1,"e":1.0},{"k":"F","x":59974.9,"y":2.3,"e":0.9}]},
 "encoding":{"x":{"field":"x","type":"quantitative","scale":{"domain":[59969.5,59975.6],"nice":false,"zero":false},"axis":{"values":[59970,59972,59974],"format":"d","title":["MJD","(k) O7"]}}},
 "layer":[
  {"encoding":{"y":{"field":"y","type":"quantitative","scale":{"domain":[20,235],"nice":false,"zero":false},"axis":{"orient":"left","values":[100,200],"title":"WCDA [Nₓ]"}}},
   "layer":[
    {"transform":[{"filter":"datum.k=='Trend'"}],"mark":{"type":"errorbar","color":"#000000","thickness":0.5},"encoding":{"yError":{"field":"e"}}},
    {"transform":[{"filter":"datum.k=='Trend'"}],"mark":{"type":"line","strokeWidth":0.6},"encoding":{"color":{"field":"k","type":"nominal","scale":{"domain":["Trend","Fit"],"range":["#7f7f7f","#ff0000"]},"legend":{"title":null}},"strokeDash":{"field":"k","type":"nominal","scale":{"domain":["Trend","Fit"],"range":[[2,1.2],[1,0]]},"legend":{"title":null}}}},
    {"transform":[{"filter":"datum.k=='Fit'"}],"mark":{"type":"line","strokeWidth":1.2,"interpolate":"monotone"},"encoding":{"color":{"field":"k","type":"nominal"},"strokeDash":{"field":"k","type":"nominal"}}},
    {"transform":[{"filter":"datum.k=='Trend'"}],"mark":{"type":"square","color":"#000000","size":6,"opacity":1}}]},
  {"encoding":{"y":{"field":"y","type":"quantitative","scale":{"domain":[0.8,6.2],"nice":false,"zero":false},"axis":{"orient":"right","values":[2,4,6],"title":"Fermi [Flux]","labelColor":"#0000ff","titleColor":"#0000ff","tickColor":"#0000ff","titleAngle":270}}},
   "layer":[
    {"transform":[{"filter":"datum.k=='F'"}],"mark":{"type":"errorbar","color":"#5a5aff","opacity":0.45,"thickness":1.1},"encoding":{"yError":{"field":"e"}}},
    {"transform":[{"filter":"datum.k=='F'"}],"mark":{"type":"square","color":"#0000ff","size":5,"opacity":1}}]}],
 "resolve":{"scale":{"y":"independent"}}},

{"title":{"text":"1e-7","subtitle":"O9"},
 "data":{"values":[
  {"k":"Trend","x":59986.93,"y":85,"e":9},{"k":"Trend","x":59987.93,"y":57,"e":8},{"k":"Trend","x":59988.86,"y":151,"e":11},{"k":"Trend","x":59989.67,"y":83,"e":9},{"k":"Trend","x":59990.56,"y":41,"e":7},
  {"k":"Fit","x":59986.8,"y":45},{"k":"Fit","x":59987.3,"y":52},{"k":"Fit","x":59987.8,"y":68},{"k":"Fit","x":59988.3,"y":110},{"k":"Fit","x":59988.7,"y":148},{"k":"Fit","x":59988.9,"y":155},{"k":"Fit","x":59989.2,"y":130},{"k":"Fit","x":59989.5,"y":95},{"k":"Fit","x":59989.9,"y":72},{"k":"Fit","x":59990.3,"y":58},{"k":"Fit","x":59990.95,"y":48},
  {"k":"F","x":59986.9,"y":0.8,"e":0.4},{"k":"F","x":59988,"y":0.9,"e":0.4},{"k":"F","x":59988.7,"y":0.7,"e":0.4},{"k":"F","x":59989.7,"y":1.8,"e":0.6},{"k":"F","x":59990.7,"y":4.0,"e":0.8}]},
 "encoding":{"x":{"field":"x","type":"quantitative","scale":{"domain":[59986.77,59991],"nice":false,"zero":false},"axis":{"values":[59987,59988,59989,59990],"format":"d","title":["MJD","(l) O9"]}}},
 "layer":[
  {"encoding":{"y":{"field":"y","type":"quantitative","scale":{"domain":[20,168],"nice":false,"zero":false},"axis":{"orient":"left","values":[50,100,150],"title":"WCDA [Nₓ]"}}},
   "layer":[
    {"transform":[{"filter":"datum.k=='Trend'"}],"mark":{"type":"errorbar","color":"#000000","thickness":0.5},"encoding":{"yError":{"field":"e"}}},
    {"transform":[{"filter":"datum.k=='Trend'"}],"mark":{"type":"line","strokeWidth":0.6},"encoding":{"color":{"field":"k","type":"nominal","scale":{"domain":["Trend","Fit"],"range":["#7f7f7f","#ff0000"]},"legend":{"title":null}},"strokeDash":{"field":"k","type":"nominal","scale":{"domain":["Trend","Fit"],"range":[[2,1.2],[1,0]]},"legend":{"title":null}}}},
    {"transform":[{"filter":"datum.k=='Fit'"}],"mark":{"type":"line","strokeWidth":1.2,"interpolate":"monotone"},"encoding":{"color":{"field":"k","type":"nominal"},"strokeDash":{"field":"k","type":"nominal"}}},
    {"transform":[{"filter":"datum.k=='Trend'"}],"mark":{"type":"square","color":"#000000","size":6,"opacity":1}}]},
  {"encoding":{"y":{"field":"y","type":"quantitative","scale":{"domain":[0.2,4.9],"nice":false,"zero":false},"axis":{"orient":"right","values":[2,4],"title":"Fermi [Flux]","labelColor":"#0000ff","titleColor":"#0000ff","tickColor":"#0000ff","titleAngle":270}}},
   "layer":[
    {"transform":[{"filter":"datum.k=='F'"}],"mark":{"type":"errorbar","color":"#5a5aff","opacity":0.45,"thickness":1.1},"encoding":{"yError":{"field":"e"}}},
    {"transform":[{"filter":"datum.k=='F'"}],"mark":{"type":"square","color":"#0000ff","size":5,"opacity":1}}]}],
 "resolve":{"scale":{"y":"independent"}}},

{"title":{"text":"1e-7","subtitle":"O21"},
 "data":{"values":[
  {"k":"Trend","x":60277.6,"y":84,"e":8},{"k":"Trend","x":60278.4,"y":50,"e":7},{"k":"Trend","x":60279.2,"y":72,"e":8},{"k":"Trend","x":60279.6,"y":96,"e":9},{"k":"Trend","x":60280.2,"y":121,"e":10},{"k":"Trend","x":60281,"y":150,"e":9},{"k":"Trend","x":60281.5,"y":107,"e":9},{"k":"Trend","x":60282,"y":70,"e":8},{"k":"Trend","x":60282.7,"y":73,"e":8},{"k":"Trend","x":60283.5,"y":55,"e":7},{"k":"Trend","x":60284.4,"y":64,"e":8},
  {"k":"Fit","x":60277.5,"y":55},{"k":"Fit","x":60278.5,"y":65},{"k":"Fit","x":60279.5,"y":88},{"k":"Fit","x":60280.3,"y":112},{"k":"Fit","x":60281,"y":122},{"k":"Fit","x":60281.6,"y":115},{"k":"Fit","x":60282.3,"y":95},{"k":"Fit","x":60283,"y":75},{"k":"Fit","x":60283.7,"y":60},{"k":"Fit","x":60284.4,"y":50},{"k":"Fit","x":60285,"y":46},
  {"k":"F","x":60278.2,"y":0.6,"e":0.3},{"k":"F","x":60278.8,"y":2.5,"e":0.8},{"k":"F","x":60279.4,"y":2.7,"e":0.8},{"k":"F","x":60280,"y":2.3,"e":0.7},{"k":"F","x":60280.6,"y":1.6,"e":0.6},{"k":"F","x":60281.2,"y":1.2,"e":0.5},{"k":"F","x":60281.6,"y":1.1,"e":0.5},{"k":"F","x":60282.4,"y":1.4,"e":0.6},{"k":"F","x":60283.2,"y":0.9,"e":0.4},{"k":"F","x":60284.2,"y":3.1,"e":0.7}]},
 "encoding":{"x":{"field":"x","type":"quantitative","scale":{"domain":[60277.5,60285],"nice":false,"zero":false},"axis":{"values":[60279,60281,60283],"format":"d","title":["MJD","(m) O21"]}}},
 "layer":[
  {"encoding":{"y":{"field":"y","type":"quantitative","scale":{"domain":[32,161],"nice":false,"zero":false},"axis":{"orient":"left","values":[50,100,150],"title":"WCDA [Nₓ]"}}},
   "layer":[
    {"transform":[{"filter":"datum.k=='Trend'"}],"mark":{"type":"errorbar","color":"#000000","thickness":0.5},"encoding":{"yError":{"field":"e"}}},
    {"transform":[{"filter":"datum.k=='Trend'"}],"mark":{"type":"line","strokeWidth":0.6},"encoding":{"color":{"field":"k","type":"nominal","scale":{"domain":["Trend","Fit"],"range":["#7f7f7f","#ff0000"]},"legend":{"title":null}},"strokeDash":{"field":"k","type":"nominal","scale":{"domain":["Trend","Fit"],"range":[[2,1.2],[1,0]]},"legend":{"title":null}}}},
    {"transform":[{"filter":"datum.k=='Fit'"}],"mark":{"type":"line","strokeWidth":1.2,"interpolate":"monotone"},"encoding":{"color":{"field":"k","type":"nominal"},"strokeDash":{"field":"k","type":"nominal"}}},
    {"transform":[{"filter":"datum.k=='Trend'"}],"mark":{"type":"square","color":"#000000","size":6,"opacity":1}}]},
  {"encoding":{"y":{"field":"y","type":"quantitative","scale":{"domain":[0,3.9],"nice":false,"zero":false},"axis":{"orient":"right","values":[1,2,3],"title":"Fermi [Flux]","labelColor":"#0000ff","titleColor":"#0000ff","tickColor":"#0000ff","titleAngle":270}}},
   "layer":[
    {"transform":[{"filter":"datum.k=='F'"}],"mark":{"type":"errorbar","color":"#5a5aff","opacity":0.45,"thickness":1.1},"encoding":{"yError":{"field":"e"}}},
    {"transform":[{"filter":"datum.k=='F'"}],"mark":{"type":"square","color":"#0000ff","size":5,"opacity":1}}]}],
 "resolve":{"scale":{"y":"independent"}}},

{"title":{"text":"1e-7","subtitle":"O6"},
 "data":{"values":[
  {"k":"Trend","x":59944.5,"y":110,"e":18},{"k":"Trend","x":59945.5,"y":70,"e":15},{"k":"Trend","x":59946.5,"y":120,"e":18},{"k":"Trend","x":59947.5,"y":100,"e":17},{"k":"Trend","x":59948.5,"y":130,"e":18},{"k":"Trend","x":59949.5,"y":115,"e":18},{"k":"Trend","x":59950.5,"y":120,"e":18},{"k":"Trend","x":59951.5,"y":110,"e":17},{"k":"Trend","x":59952.5,"y":190,"e":22},{"k":"Trend","x":59953.5,"y":160,"e":20},{"k":"Trend","x":59954.5,"y":175,"e":21},{"k":"Trend","x":59955.5,"y":130,"e":19},{"k":"Trend","x":59956.3,"y":290,"e":12},{"k":"Trend","x":59957,"y":140,"e":19},{"k":"Trend","x":59958,"y":120,"e":18},{"k":"Trend","x":59959,"y":170,"e":21},{"k":"Trend","x":59960,"y":175,"e":21},{"k":"Trend","x":59961,"y":120,"e":18},{"k":"Trend","x":59962,"y":185,"e":22},{"k":"Trend","x":59963,"y":190,"e":22},{"k":"Trend","x":59964,"y":110,"e":18},{"k":"Trend","x":59965,"y":80,"e":16},{"k":"Trend","x":59966,"y":75,"e":15},
  {"k":"F","x":59944.6,"y":2.0,"e":1.2},{"k":"F","x":59945.4,"y":5.5,"e":1.5},{"k":"F","x":59946.4,"y":3.2,"e":1.3},{"k":"F","x":59947.4,"y":2.5,"e":1.2},{"k":"F","x":59948.4,"y":2.0,"e":1.0},{"k":"F","x":59949.4,"y":3.5,"e":1.3},{"k":"F","x":59950.4,"y":2.7,"e":1.2},{"k":"F","x":59951.4,"y":2.0,"e":1.0},{"k":"F","x":59952.4,"y":3.5,"e":1.3},{"k":"F","x":59953.4,"y":4.5,"e":1.4},{"k":"F","x":59954.4,"y":5.0,"e":1.5},{"k":"F","x":59955.4,"y":3.0,"e":1.2},{"k":"F","x":59956.4,"y":4.5,"e":1.5},{"k":"F","x":59957.4,"y":3.5,"e":1.3},{"k":"F","x":59958.4,"y":2.5,"e":1.1},{"k":"F","x":59959.4,"y":3.5,"e":1.3},{"k":"F","x":59960.4,"y":2.5,"e":1.1},{"k":"F","x":59961.4,"y":4.0,"e":1.4},{"k":"F","x":59962.4,"y":2.0,"e":1.0},{"k":"F","x":59963.4,"y":3.0,"e":1.2},{"k":"F","x":59964.4,"y":1.0,"e":0.8},{"k":"F","x":59965.4,"y":2.0,"e":1.0},{"k":"F","x":59966.4,"y":1.5,"e":0.9}]},
 "encoding":{"x":{"field":"x","type":"quantitative","scale":{"domain":[59944.1,59967.3],"nice":false,"zero":false},"axis":{"values":[59945,59950,59955,59960,59965],"format":"d","title":["MJD","(n) O6"]}}},
 "layer":[
  {"encoding":{"y":{"field":"y","type":"quantitative","scale":{"domain":[36,305],"nice":false,"zero":false},"axis":{"orient":"left","values":[100,200,300],"title":"WCDA [Nₓ]"}}},
   "layer":[
    {"transform":[{"filter":"datum.k=='Trend'"}],"mark":{"type":"errorbar","color":"#000000","thickness":0.5},"encoding":{"yError":{"field":"e"}}},
    {"transform":[{"filter":"datum.k=='Trend'"}],"mark":{"type":"line","strokeWidth":0.6},"encoding":{"color":{"field":"k","type":"nominal","scale":{"domain":["Trend"],"range":["#7f7f7f"]},"legend":{"title":null}},"strokeDash":{"field":"k","type":"nominal","scale":{"domain":["Trend"],"range":[[2,1.2]]},"legend":{"title":null}}}},
    {"transform":[{"filter":"datum.k=='Trend'"}],"mark":{"type":"square","color":"#000000","size":6,"opacity":1}}]},
  {"encoding":{"y":{"field":"y","type":"quantitative","scale":{"domain":[-0.5,8.2],"nice":false,"zero":false},"axis":{"orient":"right","values":[2,4,6,8],"title":"Fermi [Flux]","labelColor":"#0000ff","titleColor":"#0000ff","tickColor":"#0000ff","titleAngle":270}}},
   "layer":[
    {"transform":[{"filter":"datum.k=='F'"}],"mark":{"type":"errorbar","color":"#5a5aff","opacity":0.45,"thickness":1.1},"encoding":{"yError":{"field":"e"}}},
    {"transform":[{"filter":"datum.k=='F'"}],"mark":{"type":"square","color":"#0000ff","size":5,"opacity":1}}]}],
 "resolve":{"scale":{"y":"independent"}}},

{"title":{"text":"1e-7","subtitle":"O11_O12_O13"},
 "data":{"values":[
  {"k":"S","x":60067.5,"x2":60072.2},{"k":"S","x":60073.5,"x2":60086.2},
  {"k":"Trend","x":60066.0,"y":55,"e":12},{"k":"Trend","x":60066.6,"y":45,"e":12},{"k":"Trend","x":60067.2,"y":60,"e":12},{"k":"Trend","x":60067.8,"y":30,"e":10},{"k":"Trend","x":60068.4,"y":80,"e":13},{"k":"Trend","x":60069.0,"y":130,"e":15},{"k":"Trend","x":60069.6,"y":60,"e":12},{"k":"Trend","x":60070.2,"y":100,"e":14},{"k":"Trend","x":60070.8,"y":75,"e":13},{"k":"Trend","x":60071.4,"y":110,"e":14},{"k":"Trend","x":60072.0,"y":135,"e":15},{"k":"Trend","x":60072.6,"y":180,"e":17},{"k":"Trend","x":60073.2,"y":140,"e":15},{"k":"Trend","x":60073.8,"y":110,"e":14},{"k":"Trend","x":60074.4,"y":70,"e":12},{"k":"Trend","x":60075.0,"y":100,"e":14},{"k":"Trend","x":60075.6,"y":150,"e":16},{"k":"Trend","x":60076.2,"y":165,"e":16},{"k":"Trend","x":60076.8,"y":60,"e":12},{"k":"Trend","x":60077.4,"y":85,"e":13},{"k":"Trend","x":60078.0,"y":55,"e":12},{"k":"Trend","x":60078.6,"y":75,"e":13},{"k":"Trend","x":60079.2,"y":85,"e":13},{"k":"Trend","x":60079.8,"y":70,"e":12},{"k":"Trend","x":60080.4,"y":100,"e":14},{"k":"Trend","x":60081.0,"y":120,"e":14},{"k":"Trend","x":60081.6,"y":160,"e":16},{"k":"Trend","x":60082.2,"y":120,"e":14},{"k":"Trend","x":60082.8,"y":80,"e":13},{"k":"Trend","x":60083.4,"y":60,"e":12},{"k":"Trend","x":60084.0,"y":105,"e":14},{"k":"Trend","x":60084.6,"y":170,"e":16},{"k":"Trend","x":60085.2,"y":190,"e":12},{"k":"Trend","x":60085.8,"y":95,"e":14},{"k":"Trend","x":60086.6,"y":55,"e":12},{"k":"Trend","x":60087.4,"y":70,"e":12},
  {"k":"F","x":60066.2,"y":1.5,"e":0.6},{"k":"F","x":60066.8,"y":2.0,"e":0.8},{"k":"F","x":60067.4,"y":2.5,"e":0.9},{"k":"F","x":60068,"y":1.8,"e":0.7},{"k":"F","x":60068.6,"y":3.2,"e":1.0},{"k":"F","x":60069.2,"y":2.8,"e":0.9},{"k":"F","x":60069.8,"y":2.0,"e":0.8},{"k":"F","x":60070.4,"y":3.0,"e":1.0},{"k":"F","x":60071,"y":2.2,"e":0.8},{"k":"F","x":60071.6,"y":3.5,"e":1.0},{"k":"F","x":60072.2,"y":2.8,"e":0.9},{"k":"F","x":60072.8,"y":3.8,"e":1.0},{"k":"F","x":60073.4,"y":2.5,"e":0.9},{"k":"F","x":60074,"y":3.2,"e":1.0},{"k":"F","x":60074.6,"y":2.0,"e":0.8},{"k":"F","x":60075.2,"y":4.0,"e":0.9},{"k":"F","x":60075.8,"y":2.5,"e":0.9},{"k":"F","x":60076.4,"y":3.0,"e":1.0},{"k":"F","x":60077,"y":1.8,"e":0.7},{"k":"F","x":60077.6,"y":2.5,"e":0.9},{"k":"F","x":60078.2,"y":2.2,"e":0.8},{"k":"F","x":60078.8,"y":3.5,"e":1.0},{"k":"F","x":60079.4,"y":2.0,"e":0.8},{"k":"F","x":60080,"y":2.8,"e":0.9},{"k":"F","x":60080.6,"y":1.5,"e":0.6},{"k":"F","x":60081.2,"y":3.0,"e":1.0},{"k":"F","x":60081.8,"y":2.2,"e":0.8},{"k":"F","x":60082.4,"y":3.8,"e":1.0},{"k":"F","x":60083,"y":2.0,"e":0.8},{"k":"F","x":60083.6,"y":1.5,"e":0.6},{"k":"F","x":60084.2,"y":2.5,"e":0.9},{"k":"F","x":60084.8,"y":3.5,"e":1.0},{"k":"F","x":60085.4,"y":2.8,"e":0.9},{"k":"F","x":60086,"y":2.0,"e":0.8},{"k":"F","x":60087,"y":2.5,"e":0.9}]},
 "encoding":{"x":{"field":"x","type":"quantitative","scale":{"domain":[60065.6,60088.5],"nice":false,"zero":false},"axis":{"values":[60070,60074,60078,60082,60086],"format":"d","title":["MJD","(o) O11_O13"]}}},
 "layer":[
  {"transform":[{"filter":"datum.k=='S'"}],"mark":{"type":"rect","color":"#cfcfcf","opacity":1},"encoding":{"x":{"field":"x","type":"quantitative"},"x2":{"field":"x2"},"y":{"datum":0,"type":"quantitative","scale":{"domain":[0,1]},"axis":null},"y2":{"datum":1}}},
  {"encoding":{"y":{"field":"y","type":"quantitative","scale":{"domain":[10,205],"nice":false,"zero":false},"axis":{"orient":"left","values":[50,100,150,200],"title":"WCDA [Nₓ]"}}},
   "layer":[
    {"transform":[{"filter":"datum.k=='Trend'"}],"mark":{"type":"errorbar","color":"#000000","thickness":0.5},"encoding":{"yError":{"field":"e"}}},
    {"transform":[{"filter":"datum.k=='Trend'"}],"mark":{"type":"line","strokeWidth":0.6},"encoding":{"color":{"field":"k","type":"nominal","scale":{"domain":["Trend"],"range":["#7f7f7f"]},"legend":{"title":null}},"strokeDash":{"field":"k","type":"nominal","scale":{"domain":["Trend"],"range":[[2,1.2]]},"legend":{"title":null}}}},
    {"transform":[{"filter":"datum.k=='Trend'"}],"mark":{"type":"square","color":"#000000","size":6,"opacity":1}}]},
  {"encoding":{"y":{"field":"y","type":"quantitative","scale":{"domain":[0.3,5.05],"nice":false,"zero":false},"axis":{"orient":"right","values":[1,2,3,4,5],"title":"Fermi [Flux]","labelColor":"#0000ff","titleColor":"#0000ff","tickColor":"#0000ff","titleAngle":270}}},
   "layer":[
    {"transform":[{"filter":"datum.k=='F'"}],"mark":{"type":"errorbar","color":"#5a5aff","opacity":0.45,"thickness":1.1},"encoding":{"yError":{"field":"e"}}},
    {"transform":[{"filter":"datum.k=='F'"}],"mark":{"type":"square","color":"#0000ff","size":5,"opacity":1}}]}],
 "resolve":{"scale":{"y":"independent"}}},

{"title":{"text":"1e-7","subtitle":"O14"},
 "data":{"values":[
  {"k":"Trend","x":60116.5,"y":55,"e":10},{"k":"Trend","x":60117.3,"y":75,"e":10},{"k":"Trend","x":60118,"y":85,"e":11},{"k":"Trend","x":60118.7,"y":160,"e":13},{"k":"Trend","x":60119.4,"y":145,"e":13},{"k":"Trend","x":60120.2,"y":88,"e":11},{"k":"Trend","x":60121,"y":130,"e":12},{"k":"Trend","x":60121.9,"y":95,"e":11},{"k":"Trend","x":60122.7,"y":85,"e":11},{"k":"Trend","x":60123.4,"y":68,"e":10},{"k":"Trend","x":60124.1,"y":60,"e":10},{"k":"Trend","x":60125.1,"y":95,"e":11},{"k":"Trend","x":60126,"y":95,"e":11},{"k":"Trend","x":60127,"y":18,"e":7},{"k":"Trend","x":60128,"y":18,"e":7},
  {"k":"F","x":60116.6,"y":1.6,"e":0.7},{"k":"F","x":60117.4,"y":2.2,"e":0.8},{"k":"F","x":60118.2,"y":2.6,"e":0.9},{"k":"F","x":60119,"y":2.2,"e":0.8},{"k":"F","x":60119.8,"y":1.4,"e":0.6},{"k":"F","x":60120.6,"y":1.6,"e":0.7},{"k":"F","x":60121.5,"y":2.0,"e":0.8},{"k":"F","x":60122.4,"y":1.4,"e":0.6},{"k":"F","x":60123.4,"y":1.6,"e":0.7},{"k":"F","x":60124.2,"y":3.0,"e":1.0},{"k":"F","x":60125,"y":2.0,"e":0.8},{"k":"F","x":60127.8,"y":3.5,"e":1.0}]},
 "encoding":{"x":{"field":"x","type":"quantitative","scale":{"domain":[60116.3,60128.5],"nice":false,"zero":false},"axis":{"values":[60117,60122,60127],"format":"d","title":["MJD","(p) O14"]}}},
 "layer":[
  {"encoding":{"y":{"field":"y","type":"quantitative","scale":{"domain":[-5,210],"nice":false,"zero":false},"axis":{"orient":"left","values":[0,50,100,150,200],"title":"WCDA [Nₓ]"}}},
   "layer":[
    {"transform":[{"filter":"datum.k=='Trend'"}],"mark":{"type":"errorbar","color":"#000000","thickness":0.5},"encoding":{"yError":{"field":"e"}}},
    {"transform":[{"filter":"datum.k=='Trend'"}],"mark":{"type":"line","strokeWidth":0.6},"encoding":{"color":{"field":"k","type":"nominal","scale":{"domain":["Trend"],"range":["#7f7f7f"]},"legend":{"title":null}},"strokeDash":{"field":"k","type":"nominal","scale":{"domain":["Trend"],"range":[[2,1.2]]},"legend":{"title":null}}}},
    {"transform":[{"filter":"datum.k=='Trend'"}],"mark":{"type":"square","color":"#000000","size":6,"opacity":1}}]},
  {"encoding":{"y":{"field":"y","type":"quantitative","scale":{"domain":[0.5,5.05],"nice":false,"zero":false},"axis":{"orient":"right","values":[1,2,3,4,5],"title":"Fermi [Flux]","labelColor":"#0000ff","titleColor":"#0000ff","tickColor":"#0000ff","titleAngle":270}}},
   "layer":[
    {"transform":[{"filter":"datum.k=='F'"}],"mark":{"type":"errorbar","color":"#5a5aff","opacity":0.45,"thickness":1.1},"encoding":{"yError":{"field":"e"}}},
    {"transform":[{"filter":"datum.k=='F'"}],"mark":{"type":"square","color":"#0000ff","size":5,"opacity":1}}]}],
 "resolve":{"scale":{"y":"independent"}}},

{"title":{"text":"1e-7","subtitle":"O15"},
 "data":{"values":[
  {"k":"Trend","x":60135.85,"y":25,"e":8},{"k":"Trend","x":60136.9,"y":35,"e":9},{"k":"Trend","x":60137.9,"y":115,"e":12},{"k":"Trend","x":60138.9,"y":100,"e":11},{"k":"Trend","x":60140,"y":75,"e":10},{"k":"Trend","x":60140.5,"y":75,"e":10},{"k":"Trend","x":60141.3,"y":105,"e":11},{"k":"Trend","x":60142.6,"y":108,"e":11},{"k":"Trend","x":60143.4,"y":45,"e":9},{"k":"Trend","x":60144.3,"y":50,"e":9},{"k":"Trend","x":60145,"y":50,"e":9},
  {"k":"F","x":60135.9,"y":1.9,"e":0.7},{"k":"F","x":60137,"y":1.5,"e":0.6},{"k":"F","x":60138.1,"y":2.6,"e":0.9},{"k":"F","x":60139.1,"y":3.4,"e":1.0},{"k":"F","x":60140,"y":3.0,"e":0.9},{"k":"F","x":60140.6,"y":2.8,"e":0.9},{"k":"F","x":60141.4,"y":3.5,"e":1.0},{"k":"F","x":60142.5,"y":2.6,"e":0.9},{"k":"F","x":60143.4,"y":2.1,"e":0.8},{"k":"F","x":60144.3,"y":1.9,"e":0.7},{"k":"F","x":60145.1,"y":2.7,"e":0.9}]},
 "encoding":{"x":{"field":"x","type":"quantitative","scale":{"domain":[60135.3,60145.55],"nice":false,"zero":false},"axis":{"values":[60139,60142,60145],"format":"d","title":["MJD","(q) O15"]}}},
 "layer":[
  {"encoding":{"y":{"field":"y","type":"quantitative","scale":{"domain":[-3,155],"nice":false,"zero":false},"axis":{"orient":"left","values":[0,50,100,150],"title":"WCDA [Nₓ]"}}},
   "layer":[
    {"transform":[{"filter":"datum.k=='Trend'"}],"mark":{"type":"errorbar","color":"#000000","thickness":0.5},"encoding":{"yError":{"field":"e"}}},
    {"transform":[{"filter":"datum.k=='Trend'"}],"mark":{"type":"line","strokeWidth":0.6},"encoding":{"color":{"field":"k","type":"nominal","scale":{"domain":["Trend"],"range":["#7f7f7f"]},"legend":{"title":null}},"strokeDash":{"field":"k","type":"nominal","scale":{"domain":["Trend"],"range":[[2,1.2]]},"legend":{"title":null}}}},
    {"transform":[{"filter":"datum.k=='Trend'"}],"mark":{"type":"square","color":"#000000","size":6,"opacity":1}}]},
  {"encoding":{"y":{"field":"y","type":"quantitative","scale":{"domain":[0.8,5.05],"nice":false,"zero":false},"axis":{"orient":"right","values":[1,2,3,4,5],"title":"Fermi [Flux]","labelColor":"#0000ff","titleColor":"#0000ff","tickColor":"#0000ff","titleAngle":270}}},
   "layer":[
    {"transform":[{"filter":"datum.k=='F'"}],"mark":{"type":"errorbar","color":"#5a5aff","opacity":0.45,"thickness":1.1},"encoding":{"yError":{"field":"e"}}},
    {"transform":[{"filter":"datum.k=='F'"}],"mark":{"type":"square","color":"#0000ff","size":5,"opacity":1}}]}],
 "resolve":{"scale":{"y":"independent"}}},

{"title":{"text":"1e-7","subtitle":"O16"},
 "data":{"values":[
  {"k":"Trend","x":60201.8,"y":100,"e":15},{"k":"Trend","x":60202.6,"y":100,"e":15},{"k":"Trend","x":60203.5,"y":270,"e":22},{"k":"Trend","x":60204.4,"y":240,"e":20},{"k":"Trend","x":60205.2,"y":170,"e":18},{"k":"Trend","x":60206,"y":95,"e":15},{"k":"Trend","x":60206.8,"y":130,"e":16},{"k":"Trend","x":60207.7,"y":225,"e":20},{"k":"Trend","x":60208.5,"y":155,"e":18},{"k":"Trend","x":60209.3,"y":150,"e":17},{"k":"Trend","x":60210.1,"y":110,"e":16},{"k":"Trend","x":60211,"y":75,"e":14},{"k":"Trend","x":60211.8,"y":75,"e":14},{"k":"Trend","x":60212.7,"y":110,"e":16},{"k":"Trend","x":60213.5,"y":110,"e":16},{"k":"Trend","x":60214.2,"y":190,"e":19},{"k":"Trend","x":60215,"y":75,"e":14},{"k":"Trend","x":60215.8,"y":85,"e":14},
  {"k":"F","x":60201.8,"y":3.5,"e":1.0},{"k":"F","x":60202.5,"y":4.5,"e":1.2},{"k":"F","x":60203.2,"y":4.0,"e":1.2},{"k":"F","x":60204.3,"y":5.0,"e":1.3},{"k":"F","x":60205.1,"y":4.5,"e":2.5},{"k":"F","x":60209.6,"y":1.5,"e":0.8},{"k":"F","x":60210.4,"y":2.0,"e":0.8},{"k":"F","x":60211.2,"y":1.5,"e":0.7},{"k":"F","x":60212.2,"y":1.8,"e":0.8},{"k":"F","x":60213,"y":2.2,"e":0.8},{"k":"F","x":60213.7,"y":2.5,"e":0.9},{"k":"F","x":60214.4,"y":2.0,"e":0.8}]},
 "encoding":{"x":{"field":"x","type":"quantitative","scale":{"domain":[60201.4,60216.5],"nice":false,"zero":false},"axis":{"values":[60202,60206,60210,60214],"format":"d","title":["MJD","(r) O16"]}}},
 "layer":[
  {"encoding":{"y":{"field":"y","type":"quantitative","scale":{"domain":[15,325],"nice":false,"zero":false},"axis":{"orient":"left","values":[100,200,300],"title":"WCDA [Nₓ]"}}},
   "layer":[
    {"transform":[{"filter":"datum.k=='Trend'"}],"mark":{"type":"errorbar","color":"#000000","thickness":0.5},"encoding":{"yError":{"field":"e"}}},
    {"transform":[{"filter":"datum.k=='Trend'"}],"mark":{"type":"line","strokeWidth":0.6},"encoding":{"color":{"field":"k","type":"nominal","scale":{"domain":["Trend"],"range":["#7f7f7f"]},"legend":{"title":null}},"strokeDash":{"field":"k","type":"nominal","scale":{"domain":["Trend"],"range":[[2,1.2]]},"legend":{"title":null}}}},
    {"transform":[{"filter":"datum.k=='Trend'"}],"mark":{"type":"square","color":"#000000","size":6,"opacity":1}}]},
  {"encoding":{"y":{"field":"y","type":"quantitative","scale":{"domain":[-0.5,8.2],"nice":false,"zero":false},"axis":{"orient":"right","values":[0,2,4,6,8],"title":"Fermi [Flux]","labelColor":"#0000ff","titleColor":"#0000ff","tickColor":"#0000ff","titleAngle":270}}},
   "layer":[
    {"transform":[{"filter":"datum.k=='F'"}],"mark":{"type":"errorbar","color":"#5a5aff","opacity":0.45,"thickness":1.1},"encoding":{"yError":{"field":"e"}}},
    {"transform":[{"filter":"datum.k=='F'"}],"mark":{"type":"square","color":"#0000ff","size":5,"opacity":1}}]}],
 "resolve":{"scale":{"y":"independent"}}},

{"title":{"text":"1e-7","subtitle":"O19_O20"},
 "data":{"values":[
  {"k":"S","x":60243.4,"x2":60245.4},{"k":"S","x":60247.2,"x2":60259},
  {"k":"Trend","x":60241.3,"y":75,"e":15},{"k":"Trend","x":60242,"y":30,"e":12},{"k":"Trend","x":60242.7,"y":120,"e":17},{"k":"Trend","x":60243.3,"y":150,"e":18},{"k":"Trend","x":60244,"y":230,"e":20},{"k":"Trend","x":60244.6,"y":215,"e":20},{"k":"Trend","x":60245.3,"y":140,"e":18},{"k":"Trend","x":60246,"y":70,"e":15},{"k":"Trend","x":60246.7,"y":110,"e":17},{"k":"Trend","x":60247.3,"y":160,"e":18},{"k":"Trend","x":60248,"y":200,"e":19},{"k":"Trend","x":60248.6,"y":190,"e":19},{"k":"Trend","x":60249.3,"y":150,"e":18},{"k":"Trend","x":60250,"y":110,"e":17},{"k":"Trend","x":60250.6,"y":130,"e":17},{"k":"Trend","x":60251.3,"y":180,"e":19},{"k":"Trend","x":60252,"y":160,"e":18},{"k":"Trend","x":60252.7,"y":270,"e":20},{"k":"Trend","x":60253.4,"y":230,"e":20},{"k":"Trend","x":60254,"y":180,"e":19},{"k":"Trend","x":60254.7,"y":130,"e":17},{"k":"Trend","x":60255.4,"y":110,"e":17},{"k":"Trend","x":60256,"y":270,"e":20},{"k":"Trend","x":60256.7,"y":280,"e":20},{"k":"Trend","x":60257.4,"y":170,"e":18},{"k":"Trend","x":60258,"y":60,"e":14},{"k":"Trend","x":60258.7,"y":90,"e":16},{"k":"Trend","x":60259.4,"y":100,"e":16},{"k":"Trend","x":60260,"y":70,"e":15},{"k":"Trend","x":60260.7,"y":65,"e":15},{"k":"Trend","x":60261.4,"y":70,"e":15},
  {"k":"F","x":60241.2,"y":1.8,"e":0.8},{"k":"F","x":60242,"y":2.5,"e":0.9},{"k":"F","x":60242.8,"y":3.2,"e":1.0},{"k":"F","x":60243.5,"y":2.8,"e":1.0},{"k":"F","x":60244.2,"y":3.5,"e":1.1},{"k":"F","x":60244.9,"y":3.8,"e":1.1},{"k":"F","x":60245.6,"y":2.5,"e":0.9},{"k":"F","x":60246.4,"y":3.0,"e":1.0},{"k":"F","x":60247.2,"y":2.0,"e":0.8},{"k":"F","x":60248,"y":3.5,"e":1.1},{"k":"F","x":60248.8,"y":2.8,"e":1.0},{"k":"F","x":60249.6,"y":2.2,"e":0.9},{"k":"F","x":60250.4,"y":1.5,"e":0.7},{"k":"F","x":60251.2,"y":3.0,"e":1.0},{"k":"F","x":60252,"y":2.5,"e":0.9},{"k":"F","x":60252.8,"y":1.8,"e":0.8},{"k":"F","x":60253.6,"y":3.2,"e":1.0},{"k":"F","x":60254.4,"y":2.8,"e":1.0},{"k":"F","x":60255.2,"y":3.5,"e":1.1},{"k":"F","x":60256,"y":2.2,"e":0.9},{"k":"F","x":60257.2,"y":2.5,"e":0.9},{"k":"F","x":60258.4,"y":1.8,"e":0.8},{"k":"F","x":60259.6,"y":1.5,"e":0.7},{"k":"F","x":60261,"y":2.2,"e":0.9}]},
 "encoding":{"x":{"field":"x","type":"quantitative","scale":{"domain":[60240.6,60262.6],"nice":false,"zero":false},"axis":{"values":[60241,60246,60251,60256,60261],"format":"d","title":["MJD","(s) O19_O20"]}}},
 "layer":[
  {"transform":[{"filter":"datum.k=='S'"}],"mark":{"type":"rect","color":"#cfcfcf","opacity":1},"encoding":{"x":{"field":"x","type":"quantitative"},"x2":{"field":"x2"},"y":{"datum":0,"type":"quantitative","scale":{"domain":[0,1]},"axis":null},"y2":{"datum":1}}},
  {"encoding":{"y":{"field":"y","type":"quantitative","scale":{"domain":[20,305],"nice":false,"zero":false},"axis":{"orient":"left","values":[100,200,300],"title":"WCDA [Nₓ]"}}},
   "layer":[
    {"transform":[{"filter":"datum.k=='Trend'"}],"mark":{"type":"errorbar","color":"#000000","thickness":0.5},"encoding":{"yError":{"field":"e"}}},
    {"transform":[{"filter":"datum.k=='Trend'"}],"mark":{"type":"line","strokeWidth":0.6},"encoding":{"color":{"field":"k","type":"nominal","scale":{"domain":["Trend"],"range":["#7f7f7f"]},"legend":{"title":null}},"strokeDash":{"field":"k","type":"nominal","scale":{"domain":["Trend"],"range":[[2,1.2]]},"legend":{"title":null}}}},
    {"transform":[{"filter":"datum.k=='Trend'"}],"mark":{"type":"square","color":"#000000","size":6,"opacity":1}}]},
  {"encoding":{"y":{"field":"y","type":"quantitative","scale":{"domain":[0.5,5.05],"nice":false,"zero":false},"axis":{"orient":"right","values":[1,2,3,4,5],"title":"Fermi [Flux]","labelColor":"#0000ff","titleColor":"#0000ff","tickColor":"#0000ff","titleAngle":270}}},
   "layer":[
    {"transform":[{"filter":"datum.k=='F'"}],"mark":{"type":"errorbar","color":"#5a5aff","opacity":0.45,"thickness":1.1},"encoding":{"yError":{"field":"e"}}},
    {"transform":[{"filter":"datum.k=='F'"}],"mark":{"type":"square","color":"#0000ff","size":5,"opacity":1}}]}],
 "resolve":{"scale":{"y":"independent"}}},

{"title":{"text":"1e-7","subtitle":"O23"},
 "data":{"values":[
  {"k":"Trend","x":60344.8,"y":60,"e":10},{"k":"Trend","x":60345.6,"y":75,"e":11},{"k":"Trend","x":60346.4,"y":155,"e":14},{"k":"Trend","x":60347,"y":180,"e":15},{"k":"Trend","x":60347.6,"y":210,"e":16},{"k":"Trend","x":60348.4,"y":165,"e":14},{"k":"Trend","x":60349,"y":210,"e":16},{"k":"Trend","x":60349.9,"y":200,"e":16},{"k":"Trend","x":60350.6,"y":195,"e":15},{"k":"Trend","x":60351.3,"y":185,"e":15},{"k":"Trend","x":60352,"y":105,"e":12},{"k":"Trend","x":60352.6,"y":80,"e":11},{"k":"Trend","x":60353.2,"y":55,"e":10},
  {"k":"F","x":60344.8,"y":1.6,"e":0.7},{"k":"F","x":60345.7,"y":3.0,"e":1.0},{"k":"F","x":60346.5,"y":4.0,"e":1.1},{"k":"F","x":60347.3,"y":4.5,"e":1.1},{"k":"F","x":60348.1,"y":2.0,"e":0.8},{"k":"F","x":60348.8,"y":3.5,"e":1.0},{"k":"F","x":60349.6,"y":1.5,"e":0.7},{"k":"F","x":60350.5,"y":4.0,"e":1.1},{"k":"F","x":60351.3,"y":3.5,"e":1.0},{"k":"F","x":60352.2,"y":2.0,"e":0.8},{"k":"F","x":60353,"y":1.5,"e":0.6}]},
 "encoding":{"x":{"field":"x","type":"quantitative","scale":{"domain":[60344.3,60353.65],"nice":false,"zero":false},"axis":{"values":[60347,60350,60353],"format":"d","title":["MJD","(t) O23"]}}},
 "layer":[
  {"encoding":{"y":{"field":"y","type":"quantitative","scale":{"domain":[15,258],"nice":false,"zero":false},"axis":{"orient":"left","values":[50,100,150,200,250],"title":"WCDA [Nₓ]"}}},
   "layer":[
    {"transform":[{"filter":"datum.k=='Trend'"}],"mark":{"type":"errorbar","color":"#000000","thickness":0.5},"encoding":{"yError":{"field":"e"}}},
    {"transform":[{"filter":"datum.k=='Trend'"}],"mark":{"type":"line","strokeWidth":0.6},"encoding":{"color":{"field":"k","type":"nominal","scale":{"domain":["Trend"],"range":["#7f7f7f"]},"legend":{"title":null}},"strokeDash":{"field":"k","type":"nominal","scale":{"domain":["Trend"],"range":[[2,1.2]]},"legend":{"title":null}}}},
    {"transform":[{"filter":"datum.k=='Trend'"}],"mark":{"type":"square","color":"#000000","size":6,"opacity":1}}]},
  {"encoding":{"y":{"field":"y","type":"quantitative","scale":{"domain":[0.2,6.1],"nice":false,"zero":false},"axis":{"orient":"right","values":[2,4,6],"title":"Fermi [Flux]","labelColor":"#0000ff","titleColor":"#0000ff","tickColor":"#0000ff","titleAngle":270}}},
   "layer":[
    {"transform":[{"filter":"datum.k=='F'"}],"mark":{"type":"errorbar","color":"#5a5aff","opacity":0.45,"thickness":1.1},"encoding":{"yError":{"field":"e"}}},
    {"transform":[{"filter":"datum.k=='F'"}],"mark":{"type":"square","color":"#0000ff","size":5,"opacity":1}}]}],
 "resolve":{"scale":{"y":"independent"}}}
]
}
